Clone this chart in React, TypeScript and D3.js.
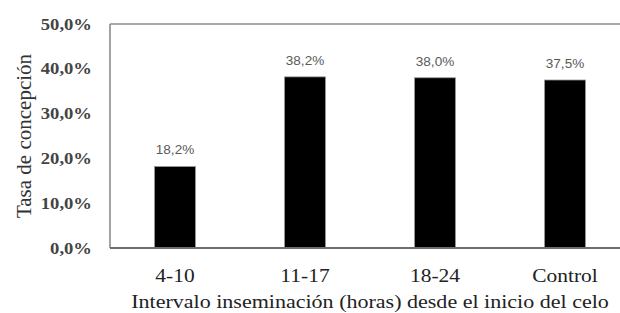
import React from "react";
import * as d3 from "d3";

const categories = ["4-10", "11-17", "18-24", "Control"];
const values = [18.2, 38.2, 38.0, 37.5];
const yTicks = [0, 10, 20, 30, 40, 50];
const xTitle = "Intervalo inseminación (horas) desde el inicio del celo";
const yTitle = "Tasa de concepción";

const W = 620;
const H = 313;

const fmt = (v: number) => v.toFixed(1).replace(".", ",") + "%";

export default function App() {
  const left = 110;
  const top = 24;
  const bottom = 248;
  const right = 630;
  const sx = 1.13;
  const x = d3.scaleBand<string>().domain(categories).range([left, right]).paddingInner(0.685).paddingOuter(0.3425);
  const y = d3.scaleLinear().domain([0, 50]).range([bottom, top]);
  const serif = "'Liberation Serif', 'Times New Roman', serif";
  const sans = "'Liberation Sans', Arial, sans-serif";
  return (
    <svg width={W} height={H} style={{ position: "absolute", left: 0, top: 0, background: "#fff" }}>
      <rect x={0} y={0} width={W} height={H} fill="#fff" />
      <line x1={left} x2={right} y1={top} y2={top} stroke="#8c8c8c" strokeWidth={1.6} />
      <line x1={left} x2={left} y1={top} y2={bottom} stroke="#8c8c8c" strokeWidth={1.6} />
      {values.map((v, i) => {
        const cx = x(categories[i])! + x.bandwidth() / 2;
        return (
          <g key={categories[i]}>
            <rect x={x(categories[i])!} y={y(v)} width={x.bandwidth()} height={bottom - y(v)} fill="#000" stroke="#9a9a9a" strokeWidth={0.8} />
            <text transform={`translate(${cx}, ${y(v) - 12}) scale(${sx},1)`} textAnchor="middle" fontFamily={sans} fontSize={12} fill="#5a5a5a">
              {fmt(v)}
            </text>
            <text transform={`translate(${cx}, 282) scale(${sx},1)`} textAnchor="middle" fontFamily={serif} fontSize={19} fill="#222">
              {categories[i]}
            </text>
          </g>
        );
      })}
      <line x1={left} x2={right} y1={bottom} y2={bottom} stroke="#6e6e6e" strokeWidth={1.8} />
      {yTicks.map((t) => (
        <text key={t} transform={`translate(92, ${y(t) + 5.5}) scale(${sx},1)`} textAnchor="end" fontFamily={serif} fontSize={16.5} fontWeight="bold" fill="#444">
          {fmt(t)}
        </text>
      ))}
      <text transform={`translate(370, 308) scale(${sx},1)`} textAnchor="middle" fontFamily={serif} fontSize={19.5} fill="#222">
        {xTitle}
      </text>
      <text transform={`translate(31, ${(top + bottom) / 2}) rotate(-90)`} textAnchor="middle" fontFamily={serif} fontSize={21} fill="#333">
        {yTitle}
      </text>
    </svg>
  );
}
